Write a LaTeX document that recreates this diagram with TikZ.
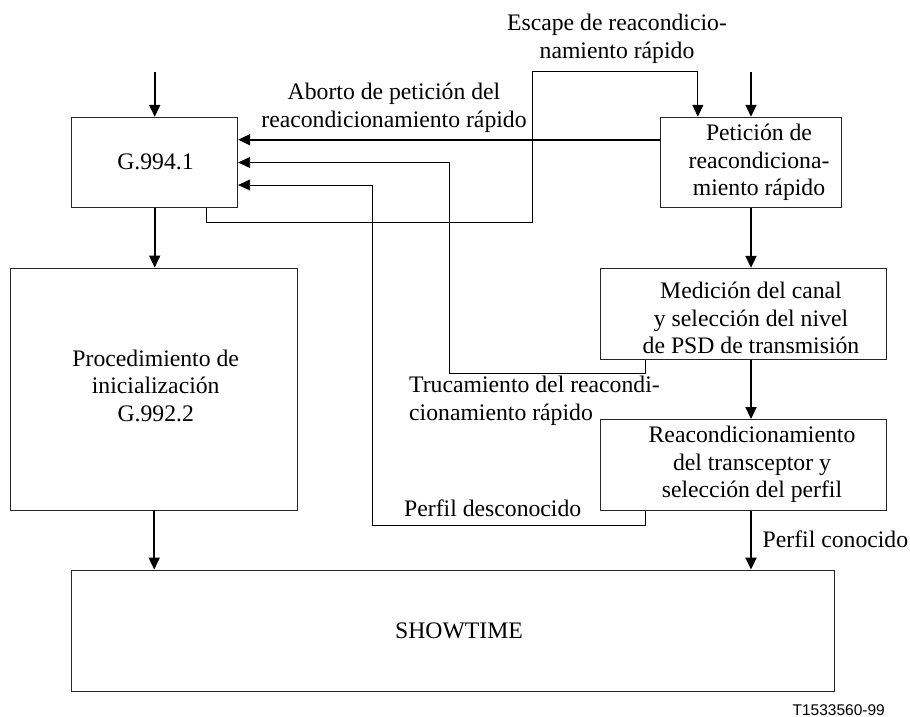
\documentclass[tikz,border=0pt]{standalone}
\usepackage{fontspec}
\setmainfont{Liberation Serif}
\newfontfamily\figsans{Liberation Sans}
\usetikzlibrary{arrows.meta,calc}
\tikzset{
  every node/.style={font=\fontsize{23.7}{27.5}\selectfont, inner sep=0pt},
  box/.style={draw=black!85, line width=0.9pt},
  txt/.style={align=center},
  tip/.style={-{Triangle[length=12pt,width=11pt]}},
  flow/.style={tip, line width=1.8pt},
  fb/.style={line width=0.9pt},
  fbarrow/.style={tip, line width=0.9pt},
}
\begin{document}
\begin{tikzpicture}[x=1pt,y=-1pt]
\useasboundingbox (0,0) rectangle (910,717);

% boxes
\node[box, minimum width=166pt, minimum height=90pt] (G) at (154.7,162.3) {};
\node[txt] (Gt) at (155.5,162.3) {G.994.1};
\node[box, minimum width=287pt, minimum height=242pt] (P) at (154.2,389) {};
\node[txt] (Pt) at (155.7,385.5) {Procedimiento de\\inicialización\\G.992.2};
\node[box, minimum width=762.6pt, minimum height=121pt] (S) at (453,630.5) {};
\node[txt] (St) at (459,630.7) {SHOWTIME};
\node[box, minimum width=181pt, minimum height=90pt] (R) at (751,162.2) {};
\node[txt] (Rt) at (759,162.7) {Petición de\\reacondiciona-\\miento rápido};
\node[box, minimum width=286.7pt, minimum height=91pt] (M) at (743.3,313.8) {};
\node[txt] (Mt) at (751,318) {Medición del canal\\y selección del nivel\\de PSD de transmisión};
\node[box, minimum width=286pt, minimum height=91pt] (T) at (743,465) {};
\node[txt] (Tt) at (752,464.3) {Reacondicionamiento\\del transceptor y\\selección del perfil};

% main flow
\coordinate (gin) at (154.7,72);
\coordinate (rin) at (751,72);
\draw[flow] (gin) -- (G.north);
\draw[flow] (rin) -- (R.north);
\draw[flow] (G.south) -- (G.south |- P.north);
\draw[flow] (P.south) -- (P.south |- S.north);
\draw[flow] (R.south) -- (R.south |- M.north);
\draw[flow] (R.south |- M.south) -- (R.south |- T.north);
\draw[flow] (R.south |- T.south) -- (R.south |- S.north);
\node[anchor=west] (lpc) at (762.5,539) {Perfil conocido};

% abort
\coordinate (ab) at ($(R.north west)+(0,23)$);
\draw[flow] (ab) -- (G.east |- ab);
\node[txt] (lab) at (394,108) {Aborto de petición del\\reacondicionamiento rápido};

% escape
\coordinate (e1) at ($(G.south west)+(135.3,0)$);
\coordinate (e2) at ($(R.north west)+(37.8,0)$);
\coordinate (e3) at (532,222.3);
\coordinate (e4) at (532,71.7);
\draw[fb] (e1) -- (e1 |- e3) -- (e3) -- (e4) -| ($(e2)+(0,-1)$);
\draw[fbarrow] ($(e2)+(0,-14)$) -- (e2);
\node[txt] (les) at (617,39) {Escape de reacondicio-\\namiento rápido};

% trucamiento
\coordinate (t1) at ($(M.south west)+(45.7,0)$);
\coordinate (t2) at (449,373.3);
\coordinate (t3) at (449,162.5);
\draw[fb] (t1) -- (t1 |- t2) -- (t2) -- (t3) -- ($(G.east |- t3)+(14,0)$);
\draw[fbarrow] ($(G.east |- t3)+(14,0)$) -- (G.east |- t3);
\node[anchor=west, align=left] (ltr) at (409,401) {Trucamiento del reacondi-\\cionamiento rápido};

% perfil desconocido
\coordinate (p1) at ($(T.south west)+(45.7,0)$);
\coordinate (p2) at (372.7,525);
\coordinate (p3) at (372.7,185);
\draw[fb] (p1) -- (p1 |- p2) -- (p2) -- (p3) -- ($(G.east |- p3)+(14,0)$);
\draw[fbarrow] ($(G.east |- p3)+(14,0)$) -- (G.east |- p3);
\node[anchor=west] (lpd) at (404,508) {Perfil desconocido};

% figure id
\node[anchor=east, font=\figsans\fontsize{15.5}{18}\selectfont] (fid) at (885,710) {T1533560-99};
\end{tikzpicture}
\end{document}
